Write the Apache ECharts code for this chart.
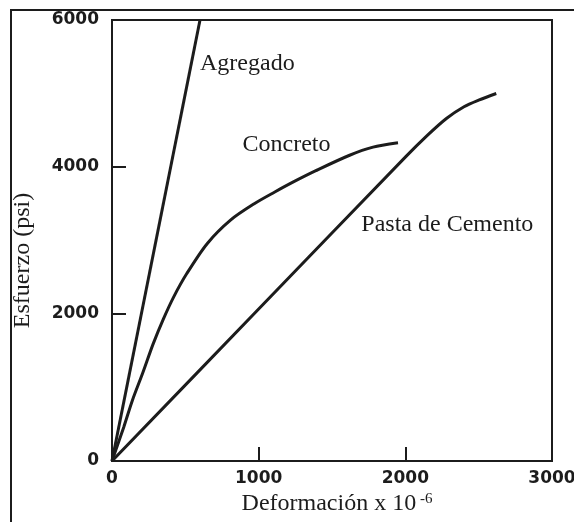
<!DOCTYPE html>
<html>
<head>
<meta charset="utf-8">
<script src="https://cdn.jsdelivr.net/npm/echarts@6/dist/echarts.min.js"></script>
<style>
html,body{margin:0;padding:0;background:#fff;}
#chart{width:574px;height:522px;}
</style>
</head>
<body>
<div id="chart"></div>
<script>
// Strain (x 10^-6) and stress (psi)
var agregadoStrain = [0, 600];
var agregadoStress = [0, 6000];

var concretoStrain = [0, 80, 140, 210, 280, 350, 420, 510, 650, 810, 970, 1110, 1230, 1390, 1620, 1780, 1950];
var concretoStress = [0, 460, 830, 1200, 1590, 1930, 2230, 2550, 2960, 3280, 3500, 3660, 3790, 3950, 4160, 4270, 4330];

var pastaStrain = [0, 1000, 2000, 2150, 2280, 2400, 2500, 2620];
var pastaStress = [0, 2067, 4134, 4430, 4660, 4820, 4910, 5000];

var xTicks = [0, 1000, 2000, 3000];
var yTicks = [0, 2000, 4000, 6000];

var seriesNames = ['Agregado', 'Concreto', 'Pasta de Cemento'];
// label anchor points (data coordinates, left edge of text)
var labelStrain = [600, 890, 1700];
var labelStress = [5400, 4310, 3210];

function pairs(xs, ys) {
  return xs.map(function (x, i) { return [x, ys[i]]; });
}

var ink = '#1c1c1c';
var serif = '"Liberation Serif", "DejaVu Serif", serif';
var tickFont = '"DejaVu Sans", sans-serif';

var chart = echarts.init(document.getElementById('chart'), null, {renderer: 'canvas'});

var lineStyle = {color: ink, width: 3};
function plain(v) { return String(v); }

var option = {
  backgroundColor: '#ffffff',
  animation: false,
  grid: {
    left: 112, top: 20, width: 440, height: 441,
    outerBoundsMode: 'none', containLabel: false,
    show: true, borderColor: ink, borderWidth: 2, backgroundColor: 'transparent'
  },
  xAxis: {
    type: 'value',
    min: xTicks[0], max: xTicks[xTicks.length - 1], interval: 1000,
    name: '{a|Deformación x 10}{b| -6}',
    nameLocation: 'middle',
    nameGap: 26,
    nameTextStyle: {
      fontFamily: serif, fontSize: 24, color: ink, padding: [0, 0, 0, 10],
      rich: {
        a: {fontFamily: serif, fontSize: 24, color: ink},
        b: {fontFamily: serif, fontSize: 15, color: ink, verticalAlign: 'top'}
      }
    },
    axisLine: {show: true, lineStyle: {color: ink, width: 2}},
    axisTick: {show: true, inside: true, length: 14, lineStyle: {color: ink, width: 2}},
    axisLabel: {fontFamily: tickFont, fontWeight: 'bold', fontSize: 17, color: ink, margin: 9, formatter: plain},
    splitLine: {show: false}
  },
  yAxis: {
    type: 'value',
    min: yTicks[0], max: yTicks[yTicks.length - 1], interval: 2000,
    name: 'Esfuerzo (psi)',
    nameLocation: 'middle',
    nameGap: 77,
    nameTextStyle: {fontFamily: serif, fontSize: 24, color: ink, padding: [0, 40, 0, 0]},
    axisLine: {show: true, lineStyle: {color: ink, width: 2}},
    axisTick: {show: true, inside: true, length: 14, lineStyle: {color: ink, width: 2}},
    axisLabel: {fontFamily: tickFont, fontWeight: 'bold', fontSize: 17, color: ink, margin: 13, formatter: plain},
    splitLine: {show: false}
  },
  series: [
    {name: seriesNames[0], type: 'line', data: pairs(agregadoStrain, agregadoStress),
     showSymbol: false, symbol: 'none', lineStyle: lineStyle, z: 3},
    {name: seriesNames[1], type: 'line', data: pairs(concretoStrain, concretoStress),
     showSymbol: false, symbol: 'none', smooth: 0.3, lineStyle: lineStyle, z: 3},
    {name: seriesNames[2], type: 'line', data: pairs(pastaStrain, pastaStress),
     showSymbol: false, symbol: 'none', smooth: 0.3, lineStyle: lineStyle, z: 3}
  ]
};
chart.setOption(option);

var graphics = [{
  type: 'rect', silent: true, z: 100,
  shape: {x: 11, y: 10, width: 700, height: 700},
  style: {fill: null, stroke: ink, lineWidth: 2}
}];
seriesNames.forEach(function (n, i) {
  var p = chart.convertToPixel({gridIndex: 0}, [labelStrain[i], labelStress[i]]);
  graphics.push({
    type: 'text', silent: true, z: 50, x: p[0], y: p[1],
    style: {text: n, fontFamily: serif, fontSize: 24, fill: ink, align: 'left', verticalAlign: 'middle'}
  });
});
chart.setOption({graphic: graphics});
</script>
</body>
</html>
